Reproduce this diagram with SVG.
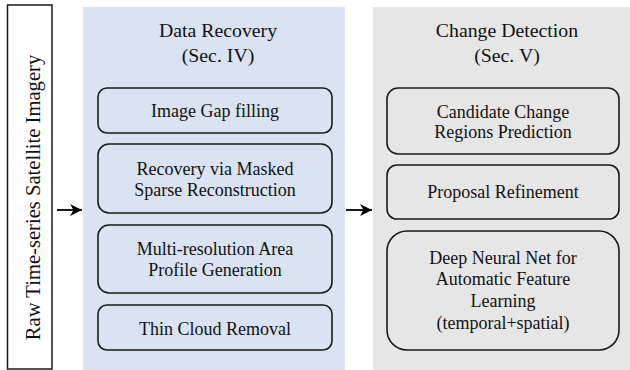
<svg xmlns="http://www.w3.org/2000/svg" width="630" height="370" viewBox="0 0 630 370">
<defs>
<marker id="ah" viewBox="0 0 12 12" refX="12" refY="6" markerWidth="12" markerHeight="12" markerUnits="userSpaceOnUse" orient="auto">
<path d="M0,0 L12,6 L0,12 L3.5,6 Z" fill="#000"/>
</marker>
<style>
text{font-family:"Liberation Serif","Times New Roman",serif;fill:#111;text-anchor:middle}
.t{font-size:19.8px}
.b{font-size:18px}
.box{fill:none;stroke:#1a1a1a;stroke-width:1.6}
.conn{stroke:#000;stroke-width:1.8;fill:none}
</style>
</defs>
<rect width="630" height="370" fill="#fff"/>
<g id="input">
<rect x="7.5" y="5" width="44.5" height="364" fill="#fff" stroke="#1a1a1a" stroke-width="1.5"/>
<text transform="translate(40,197.5) rotate(-90)" font-size="20.6">Raw Time-series Satellite Imagery</text>
</g>
<g id="data-recovery">
<rect x="83" y="7" width="262" height="363" fill="#dae3f3"/>
<text class="t" x="218" y="37">Data Recovery</text>
<text class="t" x="218" y="62">(Sec. IV)</text>
</g>
<g id="image-gap">
<rect class="box" x="98" y="88" width="234" height="45" rx="9"/>
<text class="b" x="215" y="117">Image Gap filling</text>
</g>
<g id="masked-sparse">
<rect class="box" x="98" y="144" width="234" height="69" rx="11"/>
<text class="b" x="215" y="175">Recovery via Masked</text>
<text class="b" x="215" y="196">Sparse Reconstruction</text>
</g>
<g id="multi-res">
<rect class="box" x="98" y="225" width="234" height="68" rx="11"/>
<text class="b" x="215" y="255">Multi-resolution Area</text>
<text class="b" x="215" y="276">Profile Generation</text>
</g>
<g id="thin-cloud">
<rect class="box" x="98" y="305" width="234" height="45" rx="9"/>
<text class="b" x="215" y="335">Thin Cloud Removal</text>
</g>
<g id="change-detection">
<rect x="373" y="7" width="257" height="363" fill="#e7e6e6"/>
<text class="t" x="507" y="37">Change Detection</text>
<text class="t" x="507" y="62">(Sec. V)</text>
</g>
<g id="candidate">
<rect class="box" x="387" y="88" width="232" height="66" rx="11"/>
<text class="b" x="503" y="118">Candidate Change</text>
<text class="b" x="503" y="138">Regions Prediction</text>
</g>
<g id="proposal">
<rect class="box" x="387" y="165" width="232" height="54" rx="10"/>
<text class="b" x="503" y="198">Proposal Refinement</text>
</g>
<g id="deep-net">
<rect class="box" x="387" y="231" width="232" height="119" rx="20"/>
<text class="b" x="503" y="264">Deep Neural Net for</text>
<text class="b" x="503" y="285">Automatic Feature</text>
<text class="b" x="503" y="307">Learning</text>
<text class="b" x="503" y="329">(temporal+spatial)</text>
</g>
<g id="connectors">
<line class="conn" x1="57" y1="210" x2="82" y2="210" marker-end="url(#ah)"/>
<line class="conn" x1="346" y1="210" x2="372" y2="210" marker-end="url(#ah)"/>
</g>
</svg>
